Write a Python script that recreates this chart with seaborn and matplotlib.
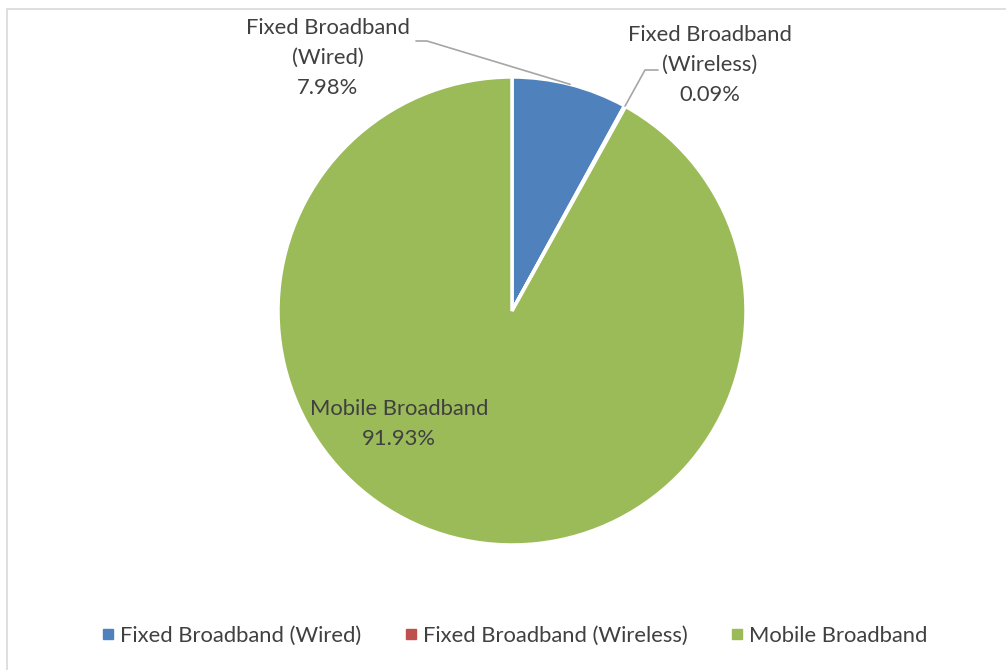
import numpy as np
import matplotlib
matplotlib.use("Agg")
import matplotlib.pyplot as plt
from matplotlib.lines import Line2D
from matplotlib.patches import Rectangle
import seaborn as sns

# data
categories = ['Fixed Broadband (Wired)', 'Fixed Broadband (Wireless)', 'Mobile Broadband']
shares = [7.98, 0.09, 91.93]
label_texts = ['Fixed Broadband\n(Wired)\n7.98%', 'Fixed Broadband\n(Wireless)\n0.09%',
               'Mobile Broadband\n91.93%']
colors = ['#4F81BD', '#C0504D', '#9BBB59']

sns.set_theme(style="white")
plt.rcParams['font.family'] = ['Lato', 'DejaVu Sans']

W, H = 1006, 670
fig = plt.figure(figsize=(W / 100, H / 100), dpi=100)
ax = fig.add_axes([0, 0, 1, 1])

# light grey frame around the chart area
ax.add_patch(Rectangle((7.5, -5), W, H - 8.5 + 5, fill=False, edgecolor='#d9d9d9', lw=1.2))

cx, cy, r = 512, H - 311, 234
wedges, _ = ax.pie(shares, colors=colors, startangle=90, counterclock=False,
                   center=(cx, cy), radius=r, frame=True,
                   wedgeprops=dict(edgecolor='white', linewidth=2.5))
ax.set_xlim(0, W)
ax.set_ylim(0, H)
ax.set_aspect('equal')
ax.axis('off')

txt_color = '#404040'
fs = 15.8

def edge_point(w):
    ang = np.deg2rad((w.theta1 + w.theta2) / 2)
    return cx + r * np.cos(ang), cy + r * np.sin(ang)

# Wired label with leader
ax.text(328, H - 58, label_texts[0], ha='center', va='center', fontsize=fs,
        color=txt_color, linespacing=1.6)
px, py = edge_point(wedges[0])
ax.plot([416, 427, px], [H - 41, H - 41, py], color='#a6a6a6', lw=1.2)

# Wireless label with leader
ax.text(710, H - 65, label_texts[1], ha='center', va='center', fontsize=fs,
        color=txt_color, linespacing=1.6)
px, py = edge_point(wedges[1])
ax.plot([658, 645, px], [H - 70, H - 70, py], color='#a6a6a6', lw=1.2)

# Mobile label inside
ax.text(399, H - 424, label_texts[2], ha='center', va='center', fontsize=fs,
        color=txt_color, linespacing=1.6)

handles = [Line2D([], [], marker='s', ls='none', markersize=7, color=c) for c in colors]
fig.legend(handles, categories, loc='center', bbox_to_anchor=(515 / W, 1 - 636 / H),
           ncol=3, frameon=False, fontsize=fs, handlelength=0.5, handletextpad=0.3,
           columnspacing=2.0, labelcolor=txt_color)

fig.savefig('out.png', dpi=100)
